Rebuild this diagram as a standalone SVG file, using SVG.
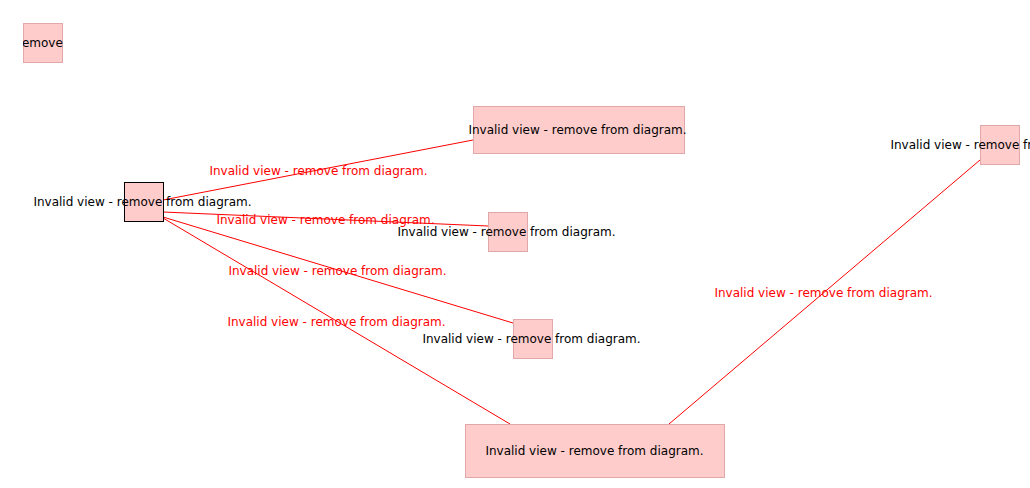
<svg xmlns="http://www.w3.org/2000/svg" width="1030" height="488" viewBox="0 0 1030 488">
<style>
.n{fill:#ffcccc;stroke:#e0a8a8;stroke-width:1}
.sel{fill:#ffcccc;stroke:#000;stroke-width:1}
.t{font-family:"DejaVu Sans",sans-serif;font-size:12px;fill:#000;text-anchor:middle}
.e{stroke:#ff0000;stroke-width:1;fill:none}
.el{font-family:"DejaVu Sans",sans-serif;font-size:12px;fill:#ff0000;text-anchor:middle}
</style>
<defs>
<clipPath id="c1"><rect x="23" y="23" width="40" height="40"/></clipPath>
</defs>
<rect width="1030" height="488" fill="#fff"/>
<g id="connectors">
<line class="e" x1="163" y1="200" x2="473" y2="140"/>
<line class="e" x1="163" y1="212" x2="488" y2="226"/>
<line class="e" x1="163" y1="217" x2="513" y2="323"/>
<line class="e" x1="163" y1="218" x2="510" y2="424"/>
<line class="e" x1="980" y1="160" x2="669" y2="424"/>
<text class="el" x="318.5" y="175">Invalid view - remove from diagram.</text>
<text class="el" x="325.5" y="224">Invalid view - remove from diagram.</text>
<text class="el" x="337.5" y="275">Invalid view - remove from diagram.</text>
<text class="el" x="336.5" y="326">Invalid view - remove from diagram.</text>
<text class="el" x="823.5" y="297">Invalid view - remove from diagram.</text>
</g>
<g id="node1">
<rect class="n" x="23.5" y="23.5" width="39" height="39"/>
<text class="t" x="43" y="47" clip-path="url(#c1)">Invalid view - remove from diagram.</text>
</g>
<g id="nodeA">
<rect class="sel" x="124.5" y="182.5" width="39" height="39"/>
<text class="t" x="142.5" y="206">Invalid view - remove from diagram.</text>
</g>
<g id="nodeB">
<rect class="n" x="473.5" y="106.5" width="211" height="47"/>
<text class="t" x="577.5" y="134">Invalid view - remove from diagram.</text>
</g>
<g id="nodeC">
<rect class="n" x="980.5" y="125.5" width="39" height="39"/>
<text class="t" x="999.5" y="149">Invalid view - remove from diagram.</text>
</g>
<g id="nodeD">
<rect class="n" x="488.5" y="212.5" width="39" height="39"/>
<text class="t" x="506.5" y="236">Invalid view - remove from diagram.</text>
</g>
<g id="nodeE">
<rect class="n" x="513.5" y="319.5" width="39" height="39"/>
<text class="t" x="531.5" y="343">Invalid view - remove from diagram.</text>
</g>
<g id="nodeF">
<rect class="n" x="465.5" y="424.5" width="259" height="53"/>
<text class="t" x="594.5" y="455">Invalid view - remove from diagram.</text>
</g>
</svg>
